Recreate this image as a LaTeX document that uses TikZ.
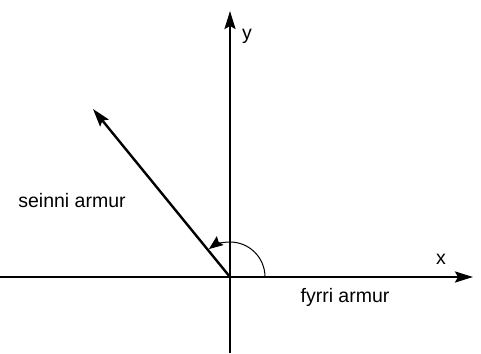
\documentclass[tikz,border=0pt]{standalone}
\usepackage{fontspec}
\setmainfont{Liberation Sans}
\usetikzlibrary{calc,arrows.meta}

\begin{document}
\begin{tikzpicture}[x=0.5pt,y=-0.5pt]
\useasboundingbox (0,0) rectangle (481,353);
\tikzset{axis/.style={line width=1.2pt,-{Stealth[length=9pt,width=5.5pt,inset=1.5pt]}},
  lbl/.style={font=\fontsize{9.75}{12}\selectfont}}
\coordinate (O) at (230,277);
\coordinate (xl) at (0,277);
\coordinate (xr) at (473,277);
\coordinate (yb) at (230,353);
\coordinate (yt) at (230,11);
\coordinate (arm) at (93,109);
\draw[axis] (xl) -- (xr);
\draw[axis] (yb) -- (yt);
\draw[axis] (O) -- (arm);
\draw[line width=0.5pt,-{Stealth[length=7pt,width=5.5pt,inset=1pt]}] ($(O)+(35,0)$) arc[start angle=0,end angle=-127,radius=35];
\node[lbl] (ylab) at (247,36) {y};
\node[lbl] (xlab) at (441,259) {x};
\node[lbl] (seinni) at (72,201) {seinni armur};
\node[lbl] (fyrri) at (345,297) {fyrri armur};
\end{tikzpicture}
\end{document}
